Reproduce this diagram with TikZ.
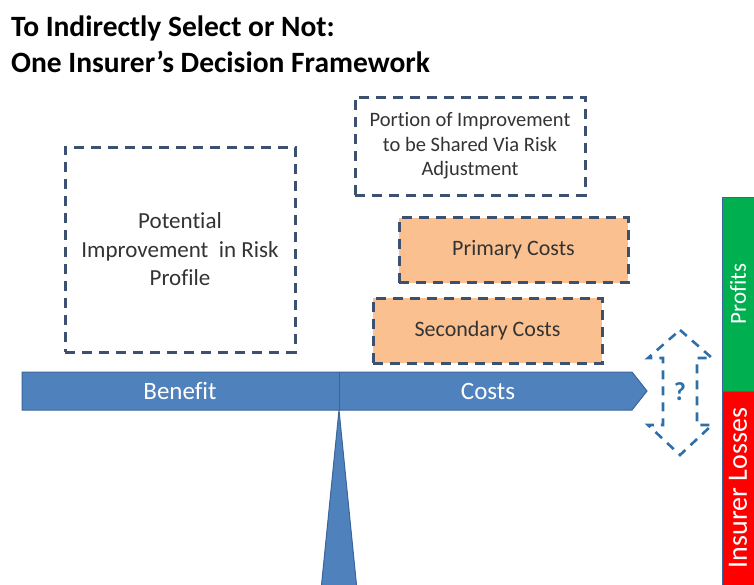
\documentclass[tikz,border=0pt]{standalone}
\usepackage{fontspec}
\setmainfont{Carlito}[Ligatures=NoCommon]
\usetikzlibrary{positioning}

\definecolor{beamblue}{HTML}{4F81BD}
\definecolor{beamedge}{HTML}{3A659A}
\definecolor{dashgray}{HTML}{3C5170}
\definecolor{costorange}{HTML}{FAC090}
\definecolor{askblue}{HTML}{2F6FA8}
\definecolor{profitgreen}{HTML}{00B050}
\definecolor{lossred}{HTML}{FF0000}

\tikzstyle{dashbox}=[draw=dashgray, line width=3pt, dash pattern=on 10pt off 7pt, align=center, inner sep=0pt, font=\fontsize{23}{28.5}\selectfont, text=black!80]
\tikzstyle{costbox}=[dashbox, fill=costorange, minimum width=229pt, minimum height=65pt, font=\fontsize{22}{26}\selectfont]
\tikzstyle{beamtext}=[text=white, font=\fontsize{25}{30}\selectfont]
\tikzstyle{sidebar}=[draw=beamedge, line width=0.8pt, minimum width=194pt, minimum height=32pt, inner sep=0pt, text=white, rotate=90]

\begin{document}
\begin{tikzpicture}[x=1pt, y=-1pt]
	\useasboundingbox (0,0) rectangle (754,584);
	%Title
	\node[anchor=north west, align=left, inner sep=0pt, font=\fontsize{29.5}{36}\selectfont\bfseries] (title) at (11,16)
		{To Indirectly Select or Not:\\One Insurer’s Decision Framework};
	%Benefit side
	\node[dashbox, minimum width=230pt, minimum height=205pt] (gain) at (180,249.5)
		{Potential\\Improvement \ in Risk\\Profile};
	%Cost side
	\node[dashbox, minimum width=230pt, minimum height=98pt, font=\fontsize{20.5}{24.5}\selectfont] (share) at (470,146)
		{Portion of Improvement\\to be Shared Via Risk\\Adjustment};
	\foreach \pos/\name/\txt in {{(513.5,250)/primary/Primary Costs}, {(487.5,330.5)/secondary/Secondary Costs}}
		\node[costbox] (\name) at \pos {\txt};
	%The balance
	\draw[fill=beamblue, draw=beamedge, line width=1pt]
		(22,372) -- (632,372) -- (647,391) -- (632,410) -- (22,410) -- cycle;
	\draw[beamedge, line width=1pt] (339,372) -- (339,410);
	\draw[fill=beamblue, draw=beamedge, line width=1pt]
		(339,410) -- (357,590) -- (321,590) -- cycle;
	\node[beamtext] (benefit) at (180,391) {Benefit};
	\node[beamtext] (costs) at (488,391) {Costs};
	%Up or down?
	\draw[askblue, line width=2.6pt, dash pattern=on 9pt off 7pt]
		(680,330) -- (712,358) -- (697,358) -- (697,425) -- (712,425) -- (680,455)
		-- (648,425) -- (663,425) -- (663,358) -- (648,358) -- cycle;
	\node[text=askblue, font=\fontsize{26}{30}\selectfont\bfseries] (ask) at (680,392) {?};
	%Outcome bars
	\node[sidebar, fill=profitgreen, font=\fontsize{23}{26}\selectfont] (profits) at (738,294) {Profits};
	\node[sidebar, fill=lossred, font=\fontsize{28}{30}\selectfont] (losses) at (738,488) {Insurer Losses};
\end{tikzpicture}
\end{document}
